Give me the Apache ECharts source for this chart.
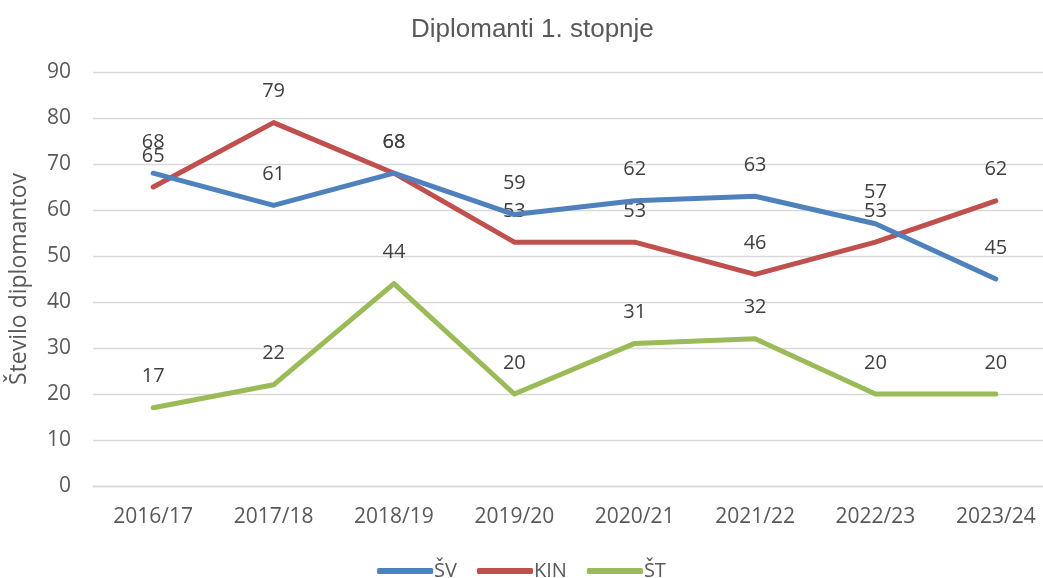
<!DOCTYPE html>
<html><head><meta charset="utf-8">
<script src="https://cdn.jsdelivr.net/npm/echarts@6/dist/echarts.min.js"></script>
<style>html,body{margin:0;padding:0;background:#fff}#c{width:1043px;height:578px}</style>
</head><body><div id="c"></div>
<script>
const categories = ['2016/17','2017/18','2018/19','2019/20','2020/21','2021/22','2022/23','2023/24'];
const seriesNames = ['ŠV','KIN','ŠT'];
const svValues = [68, 61, 68, 59, 62, 63, 57, 45];
const kinValues = [65, 79, 68, 53, 53, 46, 53, 62];
const stValues = [17, 22, 44, 20, 31, 32, 20, 20];
const yTicks = [0, 10, 20, 30, 40, 50, 60, 70, 80, 90];
const colors = ['#4f81bd', '#c0504d', '#9bbb59'];
const values = [svValues, kinValues, stValues];

const chart = echarts.init(document.getElementById('c'), null, {renderer: 'canvas'});
const uiFont = '"Open Sans", "Noto Sans", sans-serif';
const titleFont = '"Liberation Sans", Arial, sans-serif';
chart.setOption({
  animation: false,
  backgroundColor: '#fff',
  title: {
    text: 'Diplomanti 1. stopnje', left: 406, top: 12,
    textStyle: {fontFamily: titleFont, fontSize: 26, fontWeight: 'normal', color: '#595959'}
  },
  legend: {
    bottom: -8, left: 'center', itemWidth: 56, itemHeight: 6, itemGap: 20,
    icon: 'roundRect',
    textStyle: {fontFamily: uiFont, fontSize: 20, color: '#595959', padding: [0,0,0,-4]},
    data: seriesNames
  },
  grid: {left: 93, right: -13, top: 72, bottom: 92, containLabel: false, outerBoundsMode: 'none'},
  xAxis: {
    type: 'category', data: categories, boundaryGap: true,
    axisLine: {show: true, lineStyle: {color: '#d9d9d9', width: 1.3}},
    axisTick: {show: false},
    axisLabel: {fontFamily: uiFont, fontSize: 21, color: '#595959', margin: 21}
  },
  yAxis: {
    type: 'value', min: yTicks[0], max: yTicks[yTicks.length - 1], interval: yTicks[1] - yTicks[0],
    name: 'Število diplomantov', nameLocation: 'middle', nameGap: 62, nameRotate: 90,
    nameTextStyle: {fontFamily: uiFont, fontSize: 23, color: '#595959'},
    axisLine: {show: false}, axisTick: {show: false},
    splitLine: {lineStyle: {color: '#d9d9d9', width: 1.3}},
    axisLabel: {fontFamily: uiFont, fontSize: 21, color: '#595959', margin: 22}
  },
  series: seriesNames.map((n, i) => ({
    name: n, type: 'line', data: values[i],
    symbol: 'circle', symbolSize: 0.01, showSymbol: true,
    lineStyle: {color: colors[i], width: 5, cap: 'round', join: 'round'},
    itemStyle: {color: colors[i]},
    label: {show: true, position: 'top', distance: 21,
      fontFamily: uiFont, fontSize: 20, color: '#404040'},
    labelLayout: {hideOverlap: false},
    z: 3 - i
  }))
});
</script></body></html>
